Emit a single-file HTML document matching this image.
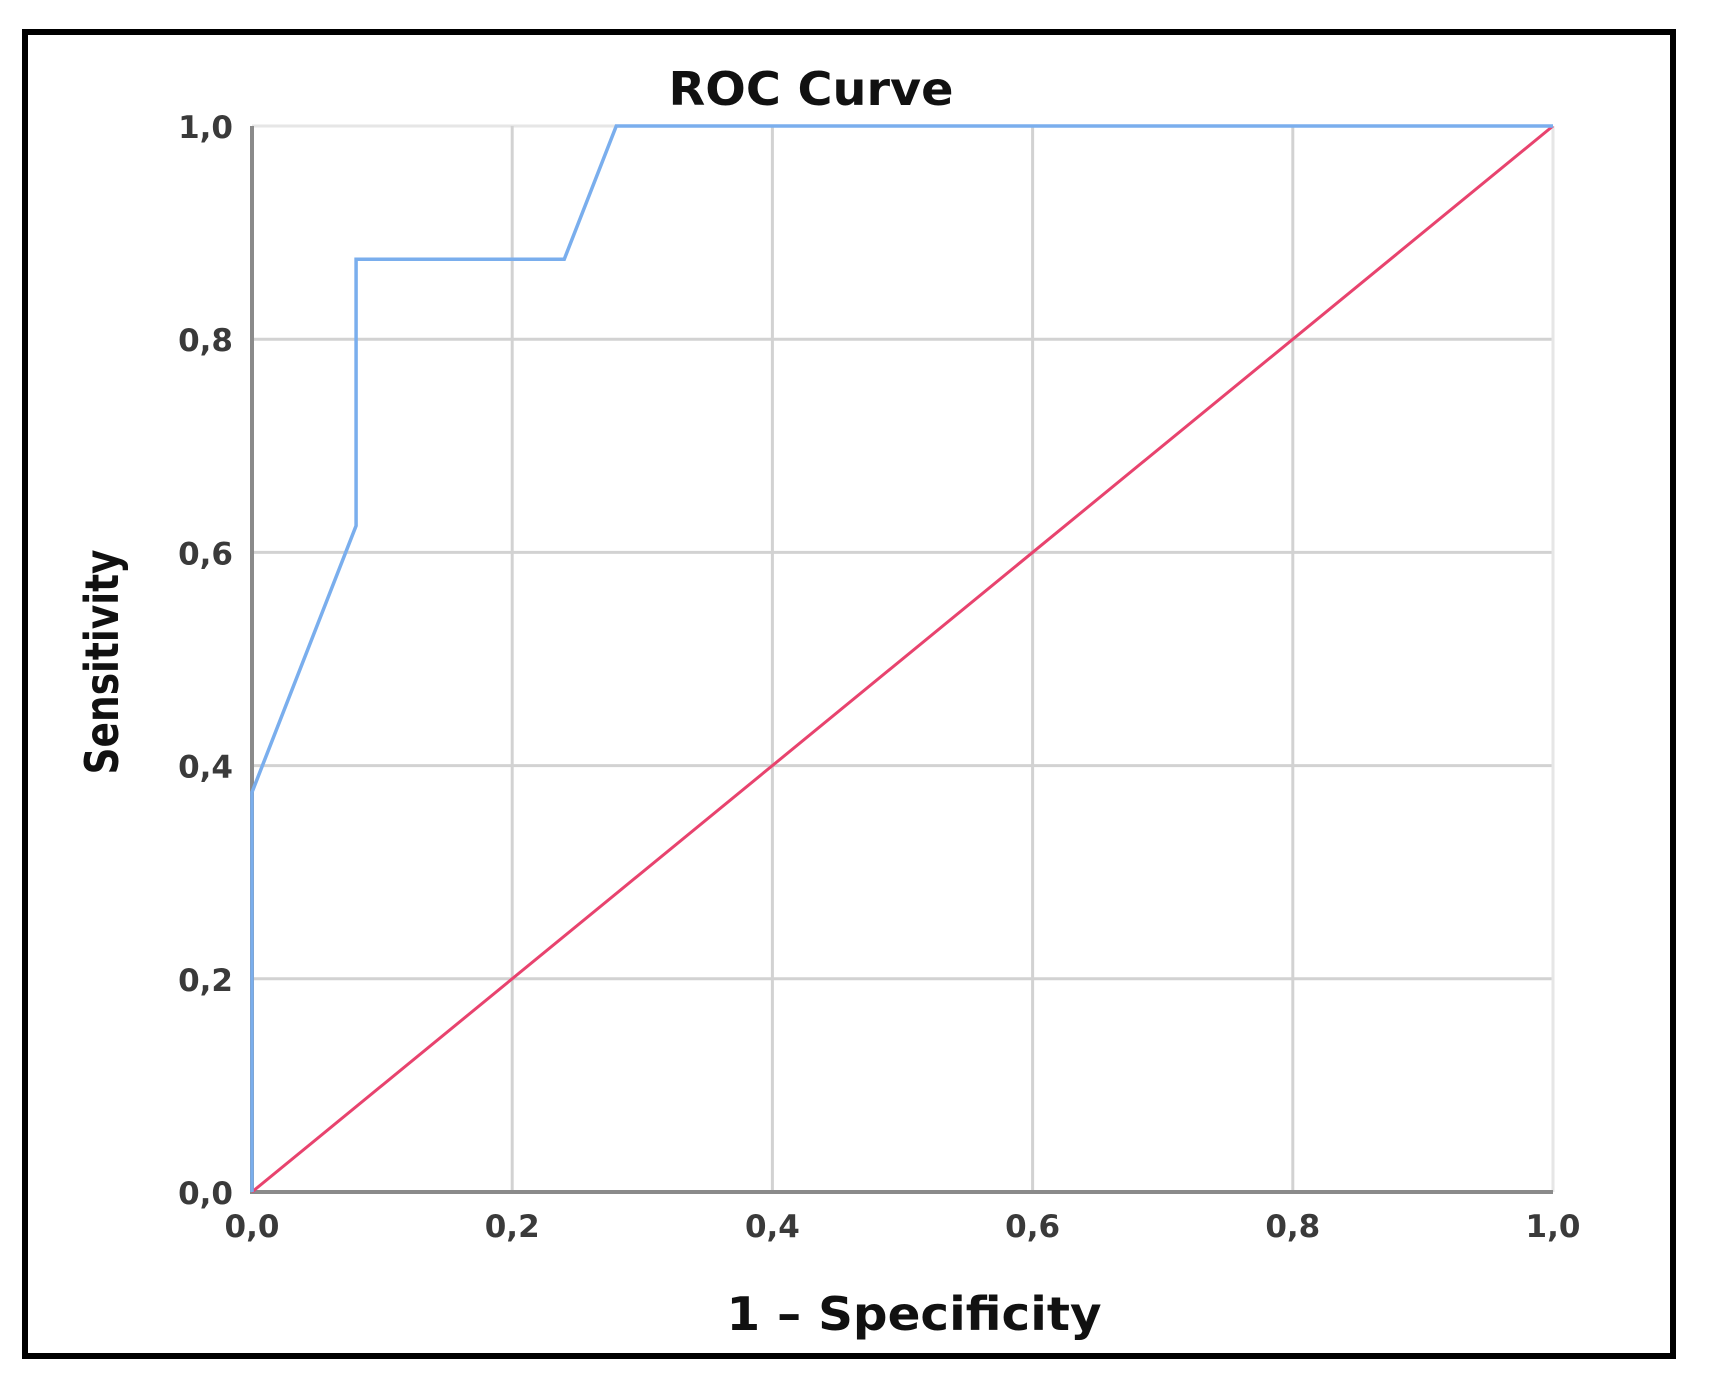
<!DOCTYPE html>
<html><head><meta charset="utf-8"><style>
html,body{margin:0;padding:0;background:#fff;}
svg{display:block;}
text{font-family:"DejaVu Sans","Liberation Sans",sans-serif;}
</style></head><body>
<svg id="chart" width="1713" height="1391" viewBox="0 0 1713 1391" xmlns="http://www.w3.org/2000/svg">
<rect x="25" y="32" width="1648" height="1324" fill="#fff" stroke="#000" stroke-width="6"/>
<text x="811" y="105" font-size="46" font-weight="bold" text-anchor="middle" fill="#111" textLength="285" lengthAdjust="spacingAndGlyphs">ROC Curve</text>
<text x="914" y="1330" font-size="46" font-weight="bold" text-anchor="middle" fill="#111" textLength="375" lengthAdjust="spacingAndGlyphs">1 – Specificity</text>
<text transform="translate(118,662) rotate(-90)" font-size="46" font-weight="bold" text-anchor="middle" fill="#111" textLength="225" lengthAdjust="spacingAndGlyphs">Sensitivity</text>
<g id="grid"></g>
<g id="marks"></g>
<g id="labels"></g>
</svg>
<script>
const xTicks = [0, 0.2, 0.4, 0.6, 0.8, 1.0];
const yTicks = [0, 0.2, 0.4, 0.6, 0.8, 1.0];
const tickLabels = ["0,0", "0,2", "0,4", "0,6", "0,8", "1,0"];
const rocFpr = [0, 0, 0.08, 0.08, 0.24, 0.28, 1.0];
const rocTpr = [0, 0.375, 0.625, 0.875, 0.875, 1.0, 1.0];
const refFpr = [0, 1];
const refTpr = [0, 1];

const X0 = 252, X1 = 1553, Y0 = 1192, Y1 = 126;
const sx = v => X0 + v * (X1 - X0);
const sy = v => Y0 - v * (Y0 - Y1);
const NS = "http://www.w3.org/2000/svg";
const grid = document.getElementById('grid');
const marks = document.getElementById('marks');
const labels = document.getElementById('labels');
function mk(tag, attrs, parent) {
  const e = document.createElementNS(NS, tag);
  for (const k in attrs) e.setAttribute(k, attrs[k]);
  parent.appendChild(e);
  return e;
}
yTicks.forEach((v, i) => {
  if (v === 0) return;
  const l = mk('line', {x1: X0, x2: X1, y1: sy(v), y2: sy(v), stroke: v === 1 ? '#e6e6e6' : '#d2d2d2', 'stroke-width': 3}, grid);
  
  
});
xTicks.forEach((v, i) => {
  if (v === 0) return;
  const l = mk('line', {x1: sx(v), x2: sx(v), y1: Y1, y2: Y0, stroke: v === 1 ? '#e6e6e6' : '#d2d2d2', 'stroke-width': 3}, grid);
  
  
});
const ya = mk('line', {x1: X0, x2: X0, y1: Y1, y2: Y0 + 2, stroke: '#8a8a8a', 'stroke-width': 4}, grid);


const xa = mk('line', {x1: X0, x2: X1, y1: Y0, y2: Y0, stroke: '#8a8a8a', 'stroke-width': 4}, grid);



const ref = mk('polyline', {points: refFpr.map((v, i) => sx(v) + ',' + sy(refTpr[i])).join(' '), fill: 'none', stroke: '#e8436e', 'stroke-width': 3}, marks);


const roc = mk('polyline', {points: rocFpr.map((v, i) => sx(v) + ',' + sy(rocTpr[i])).join(' '), fill: 'none', stroke: '#7aaeed', 'stroke-width': 3.5, 'stroke-linejoin': 'miter'}, marks);



yTicks.forEach((v, i) => {
  const t = mk('text', {x: 233, y: sy(v) + 12, 'font-size': 31, 'font-weight': 'bold', 'text-anchor': 'end', fill: '#3a3a3a'}, labels);
  t.textContent = tickLabels[i];
  
  
});
xTicks.forEach((v, i) => {
  const t = mk('text', {x: sx(v), y: Y0 + 45, 'font-size': 31, 'font-weight': 'bold', 'text-anchor': 'middle', fill: '#3a3a3a'}, labels);
  t.textContent = tickLabels[i];
  
  
});
</script>
</body></html>
